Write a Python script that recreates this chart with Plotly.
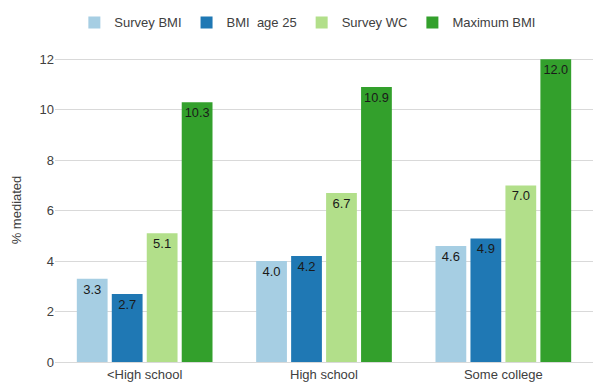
import plotly.graph_objects as go

categories = ["<High school", "High school", "Some college"]
series_names = ["Survey BMI", "BMI  age 25", "Survey WC", "Maximum BMI"]
survey_bmi = [3.3, 4.0, 4.6]
bmi_age25 = [2.7, 4.2, 4.9]
survey_wc = [5.1, 6.7, 7.0]
max_bmi = [10.3, 10.9, 12.0]
colors = ["#a6cee3", "#1f78b4", "#b2df8a", "#33a02c"]
y_ticks = [0, 2, 4, 6, 8, 10, 12]

fig = go.Figure()
for name, vals, col in zip(series_names, [survey_bmi, bmi_age25, survey_wc, max_bmi], colors):
    fig.add_trace(go.Bar(
        name=name, x=categories, y=vals, marker=dict(color=col, line=dict(width=0)),
        text=[f"{v:.1f}" for v in vals], textposition="inside", insidetextanchor="end",
        textangle=0, textfont=dict(family="Liberation Sans, Arial", size=13, color="#1a1a1a"),
        cliponaxis=False,
    ))

fig.update_layout(
    width=600, height=392,
    margin=dict(l=55, r=7, t=54, b=30),
    paper_bgcolor="white", plot_bgcolor="white",
    barmode="group", bargap=0.22, bargroupgap=0.12,
    font=dict(family="Liberation Sans, Arial", size=13, color="#404040"),
    legend=dict(orientation="h", x=0.47, xanchor="center", y=1.117, yanchor="middle",
                font=dict(size=13, color="#404040"), itemwidth=30,
                traceorder="normal"),
    xaxis=dict(showgrid=False, showline=True, linecolor="#d9d9d9", linewidth=1,
               ticks="", tickfont=dict(size=13, color="#404040"), automargin=False),
    yaxis=dict(range=[0, 12.05], tickvals=y_ticks, showgrid=True, gridcolor="#d9d9d9",
               gridwidth=1, zeroline=False, ticks="", tickfont=dict(size=13, color="#404040"),
               automargin=False,
               title=dict(text="% mediated", font=dict(size=13, color="#404040"), standoff=14)),
)
fig.write_html("out.html")
